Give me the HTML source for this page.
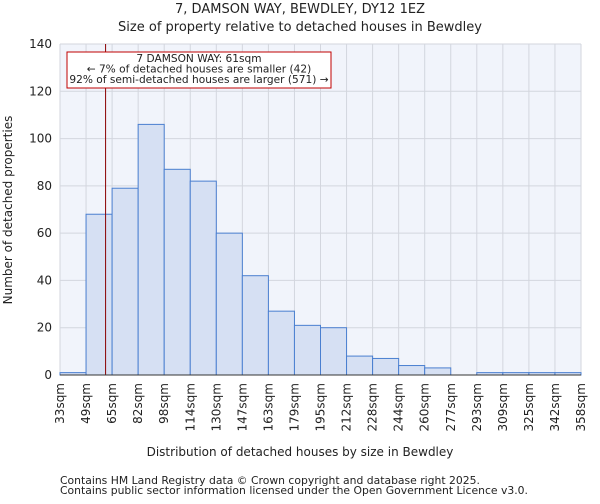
<!DOCTYPE html>
<html><head><meta charset="utf-8"><style>
body{margin:0;background:#fff;font-family:"DejaVu Sans","Liberation Sans",sans-serif;}
svg text{font-family:"DejaVu Sans","Liberation Sans",sans-serif;fill:#222;}
</style></head><body>
<svg id="chart" width="600" height="500">
<text x="300" y="13" font-size="13" text-anchor="middle">7, DAMSON WAY, BEWDLEY, DY12 1EZ</text>
<text x="300" y="31" font-size="13" text-anchor="middle">Size of property relative to detached houses in Bewdley</text>
<rect x="60" y="44" width="521" height="331" fill="#f1f4fb"/>
<g id="grid"></g><g id="bars"></g><g id="axes"></g>
<text x="300" y="456" font-size="12" text-anchor="middle">Distribution of detached houses by size in Bewdley</text>
<text transform="translate(12,210) rotate(-90)" font-size="12" text-anchor="middle">Number of detached properties</text>
<text x="60" y="484" font-size="10.8" fill="#555">Contains HM Land Registry data © Crown copyright and database right 2025.</text>
<text x="60" y="494" font-size="10.8" fill="#555">Contains public sector information licensed under the Open Government Licence v3.0.</text>
</svg>
<script>
const categories=["33sqm","49sqm","65sqm","82sqm","98sqm","114sqm","130sqm","147sqm","163sqm","179sqm","195sqm","212sqm","228sqm","244sqm","260sqm","277sqm","293sqm","309sqm","325sqm","342sqm","358sqm"];
const counts=[1,68,79,106,87,82,60,42,27,21,20,8,7,4,3,0,1,1,1,1];
const yTicks=[0,20,40,60,80,100,120,140];
const binEdges=[33,49,65,82,98,114,130,147,163,179,195,212,228,244,260,277,293,309,325,342,358];
const propertySize=61;
const NS="http://www.w3.org/2000/svg";
const X0=60,X1=581,Y0=375,Y1=44,YMAX=140;
const n=counts.length,bw=(X1-X0)/n;
const xi=i=>X0+i*bw;
const y=v=>Y0-(v/YMAX)*(Y0-Y1);
function mk(tag,attrs,parent){const e=document.createElementNS(NS,tag);for(const k in attrs)e.setAttribute(k,attrs[k]);document.getElementById(parent).appendChild(e);return e;}
yTicks.forEach(t=>{const l=mk('line',{x1:X0,x2:X1,y1:y(t),y2:y(t),stroke:'#d3d6de','stroke-width':1},'grid');


const tx=mk('text',{x:X0-8,y:y(t)+4,'font-size':12,'text-anchor':'end'},'axes');tx.textContent=t;

});
for(let i=0;i<=n;i++){const l=mk('line',{x1:xi(i),x2:xi(i),y1:Y1,y2:Y0,stroke:'#d3d6de','stroke-width':1},'grid');


const tx=mk('text',{transform:`translate(${xi(i)+4},${Y0+8}) rotate(-90)`,'font-size':12,'text-anchor':'end'},'axes');tx.textContent=categories[i];

}
counts.forEach((c,i)=>{if(c<=0)return;const r=mk('rect',{x:xi(i),y:y(c),width:bw,height:Y0-y(c),fill:'#d6e0f3',stroke:'#4a7fd0','stroke-width':1},'bars');

});
let bi=0;while(bi<n-1&&propertySize>binEdges[bi+1])bi++;
const px=xi(bi)+bw*(propertySize-binEdges[bi])/(binEdges[bi+1]-binEdges[bi]);
const ml=mk('line',{x1:px,x2:px,y1:Y1,y2:Y0,stroke:'#8a0000','stroke-width':1},'axes');


const box=mk('rect',{x:67,y:52,width:264,height:36,fill:'#fff',stroke:'#c00000','stroke-width':1},'axes');


["7 DAMSON WAY: 61sqm","← 7% of detached houses are smaller (42)","92% of semi-detached houses are larger (571) →"].forEach((s,k)=>{const t=mk('text',{x:199,y:62+k*10.5,'font-size':10.6,'text-anchor':'middle'},'axes');t.textContent=s;

});
const ax=mk('line',{x1:X0,x2:X1,y1:Y0,y2:Y0,stroke:'#333','stroke-width':1},'axes');


</script>
</body></html>
